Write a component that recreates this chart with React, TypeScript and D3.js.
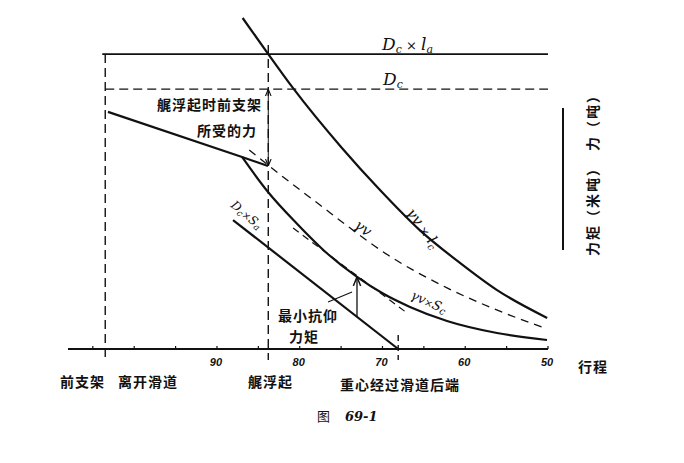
import React from 'react';
import * as d3 from 'd3';

const W = 684;
const H = 463;

// stroke (行程) axis, reversed
const strokeDomain: [number, number] = [108, 50];
const valueDomain: [number, number] = [0, 100];

const xTickValues = [90, 80, 70, 60, 50];
const xMinorTicks = [105, 100, 95, 85, 75, 65, 55];

// event positions along the stroke
const frontLeave = 103.5; // 前支架离开滑道
const sternLift = 83.8; // 艉浮起
const cgPass = 68.1; // 重心经过滑道后端

// horizontal reference levels
const DcLa = 88.3;
const Dc = 77.8;

// γv × lc
const lcX = [86.9, 83.8, 80.8, 74.9, 70.3, 65.5, 60.6, 56.2, 50.1];
const lcY = [99.1, 88.3, 78.1, 60.2, 47.6, 35.6, 25.7, 17.7, 9.3];

// γv (dashed)
const gvX = [86.1, 82.0, 77.55, 73.9, 70.05, 62.2, 56.2, 50.1];
const gvY = [59.6, 51.5, 43.1, 36.2, 29.3, 18.3, 11.7, 6.0];

// γv × Sc
const scX = [86.97, 83.83, 80.33, 76.95, 73.08, 69.94, 66.68, 62.2, 56.16, 50.12];
const scY = [57.5, 47.0, 37.5, 29.2, 21.6, 16.6, 12.6, 8.4, 4.8, 2.7];

// 艉浮起时前支架所受的力 (front poppet force)
const fpX = [103.17, 86.97, 83.83];
const fpY = [71.0, 57.5, 54.8];

// Dc × Sa
const saX = [88.06, 68.1];
const saY = [38.6, 0];

// dashed tangent parallel to Dc × Sa
const tgX = [80.8, 67.04];
const tgY = [36.2, 10.8];

// minimum anti-tipping moment position
const minX = 73.08;
const leaderX = [76.58, 73.68];
const leaderY = [14.1, 17.1];

const zip = (a: number[], b: number[]) => a.map((v, i) => [v, b[i]] as [number, number]);

export default function App() {
  const x = d3.scaleLinear().domain(strokeDomain).range([68, 548]);
  const y = d3.scaleLinear().domain(valueDomain).range([349, 15]);

  const curve = d3
    .line<[number, number]>()
    .x((d) => x(d[0]))
    .y((d) => y(d[1]))
    .curve(d3.curveMonotoneX);
  const straight = d3
    .line<[number, number]>()
    .x((d) => x(d[0]))
    .y((d) => y(d[1]));

  const saAt = (v: number) => saY[0] + ((v - saX[0]) * (saY[1] - saY[0])) / (saX[1] - saX[0]);
  const scAt = d3.scaleLinear().domain(scX).range(scY);

  const cjk = '"Noto Sans CJK SC", "Noto Sans CJK JP", sans-serif';
  const ser = '"DejaVu Serif", "Liberation Serif", serif';
  const axisY = y(0);

  const dash = '9,5';
  const sw = 2.2;

  return (
    <svg
      width={W}
      height={H}
      style={{ position: 'absolute', left: 0, top: 0, background: '#fff' }}
      xmlns="http://www.w3.org/2000/svg"
    >
      <defs>
        <marker id="ah" viewBox="0 0 10 10" refX="10" refY="5" markerWidth="7" markerHeight="7" orient="auto-start-reverse">
          <path d="M0,1 L10,5 L0,9" fill="none" stroke="#111" strokeWidth="1.6" />
        </marker>
      </defs>
      <rect x={0} y={0} width={W} height={H} fill="#fff" />

      {/* x axis */}
      <line x1={x(strokeDomain[0])} x2={x(50)} y1={axisY} y2={axisY} stroke="#111" strokeWidth={1.8} />
      {xMinorTicks.map((t) => (
        <line key={'m' + t} x1={x(t)} x2={x(t)} y1={axisY - 3} y2={axisY} stroke="#111" strokeWidth={1.2} />
      ))}
      {xTickValues.map((t) => (
        <g key={'t' + t}>
          <line x1={x(t)} x2={x(t)} y1={axisY - 3} y2={axisY} stroke="#111" strokeWidth={1.2} />
          <text
            x={x(t) - 1}
            y={axisY + 17}
            textAnchor="middle"
            fontFamily='"Liberation Sans", Arial, sans-serif'
            fontStyle="italic"
            fontWeight="bold"
            fontSize={11}
            fill="#111"
          >
            {t}
          </text>
        </g>
      ))}

      {/* horizontal levels */}
      <line x1={x(frontLeave) - 3} x2={x(50)} y1={y(DcLa)} y2={y(DcLa)} stroke="#111" strokeWidth={1.8} />
      <line x1={x(frontLeave)} x2={x(50)} y1={y(Dc)} y2={y(Dc)} stroke="#111" strokeWidth={1.4} strokeDasharray={dash} />

      {/* event verticals */}
      <line x1={x(frontLeave)} x2={x(frontLeave)} y1={y(DcLa)} y2={axisY + 11} stroke="#111" strokeWidth={1.4} strokeDasharray={dash} />
      <line x1={x(sternLift)} x2={x(sternLift)} y1={y(DcLa) - 9} y2={axisY + 11} stroke="#111" strokeWidth={1.4} strokeDasharray={dash} />
      <line x1={x(cgPass)} x2={x(cgPass)} y1={axisY - 14} y2={axisY + 11} stroke="#111" strokeWidth={1.4} strokeDasharray="6,4" />

      {/* dimension arrow: front poppet force */}
      <line
        x1={x(sternLift)}
        x2={x(sternLift)}
        y1={y(fpY[2])}
        y2={y(Dc)}
        stroke="#111"
        strokeWidth={1}
        markerStart="url(#ah)"
        markerEnd="url(#ah)"
      />

      {/* curves */}
      <path d={curve(zip(lcX, lcY)) || ''} fill="none" stroke="#111" strokeWidth={sw} />
      <path d={curve(zip(gvX, gvY)) || ''} fill="none" stroke="#111" strokeWidth={1.3} strokeDasharray="8,6" />
      <path d={curve(zip(scX, scY)) || ''} fill="none" stroke="#111" strokeWidth={sw} />
      <path d={straight(zip(fpX, fpY)) || ''} fill="none" stroke="#111" strokeWidth={sw} />
      <path d={straight(zip(saX, saY)) || ''} fill="none" stroke="#111" strokeWidth={sw} />
      <path d={straight(zip(tgX, tgY)) || ''} fill="none" stroke="#111" strokeWidth={1.2} strokeDasharray="7,5" />

      {/* minimum moment arrow */}
      <line
        x1={x(minX)}
        x2={x(minX)}
        y1={y(saAt(minX))}
        y2={y(scAt(minX))}
        stroke="#111"
        strokeWidth={1.3}
        markerEnd="url(#ah)"
      />
      <path d={straight(zip(leaderX, leaderY)) || ''} fill="none" stroke="#111" strokeWidth={1.1} />

      {/* right vertical bar */}
      <line x1={563} x2={563} y1={108} y2={250} stroke="#111" strokeWidth={2} />

      {/* curve labels */}
      <text x={382} y={50} fontFamily={ser} fontStyle="italic" fontSize={17} fill="#111">
        D<tspan fontSize={11} dy={3}>c</tspan>
        <tspan dy={-3} fontSize={13}> × </tspan>
        <tspan>l</tspan>
        <tspan fontSize={11} dy={3}>a</tspan>
      </text>
      <text x={383} y={85} fontFamily={ser} fontStyle="italic" fontSize={17} fill="#111">
        D<tspan fontSize={11} dy={3}>c</tspan>
      </text>
      <text
        transform="translate(419,231) rotate(54)"
        textAnchor="middle"
        fontFamily={ser}
        fontStyle="italic"
        fontSize={15}
        fill="#111"
      >
        γv<tspan fontSize={12}> × </tspan>l<tspan fontSize={10} dy={3}>c</tspan>
      </text>
      <text
        transform="translate(360,232) rotate(36)"
        textAnchor="middle"
        fontFamily={ser}
        fontStyle="italic"
        fontSize={15}
        fill="#111"
      >
        γv
      </text>
      <text
        transform="translate(244,218) rotate(40)"
        textAnchor="middle"
        fontFamily={ser}
        fontStyle="italic"
        fontSize={12}
        fill="#111"
      >
        D<tspan fontSize={9} dy={2}>c</tspan>
        <tspan dy={-2} fontSize={10}>×</tspan>S<tspan fontSize={9} dy={2}>a</tspan>
      </text>
      <text
        transform="translate(427,306) rotate(24)"
        textAnchor="middle"
        fontFamily={ser}
        fontStyle="italic"
        fontSize={13}
        fill="#111"
      >
        γv<tspan fontSize={10}>×</tspan>S<tspan fontSize={10} dy={2}>c</tspan>
      </text>

      {/* Chinese annotations */}
      <g fontFamily={cjk} fontWeight="bold" fontSize={14} fill="#111">
        <text x={262} y={110} textAnchor="end" letterSpacing={1}>艉浮起时前支架</text>
        <text x={257} y={136} textAnchor="end" letterSpacing={1}>所受的力</text>
        <text x={278} y={321} letterSpacing={1}>最小抗仰</text>
        <text x={289} y={342} letterSpacing={1}>力矩</text>

        <text x={60} y={387} letterSpacing={1}>前支架</text>
        <text x={118} y={387} letterSpacing={1}>离开滑道</text>
        <text x={248} y={387} letterSpacing={1}>艉浮起</text>
        <text x={340} y={390} letterSpacing={1}>重心经过滑道后端</text>
        <text x={578} y={372} letterSpacing={1}>行程</text>

        <text transform="translate(598,256) rotate(-90)" fontSize={14} letterSpacing={2}>
          力矩（米吨）　力（吨）
        </text>
      </g>

      {/* caption */}
      <text x={317} y={421} fontFamily={cjk} fontSize={13} fill="#111">图</text>
      <text x={345} y={421} fontFamily={ser} fontStyle="italic" fontWeight="bold" fontSize={13} fill="#111">69-1</text>
    </svg>
  );
}
